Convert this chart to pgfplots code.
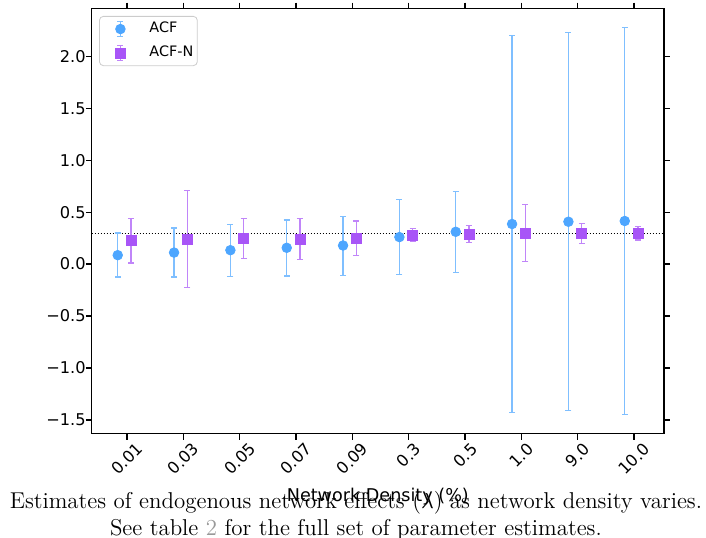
\documentclass[border=0pt]{standalone}
\usepackage{fontspec}
\usepackage{graphicx}
\usepackage{pgfplots}
\pgfplotsset{compat=1.18}
\usepackage{pgfplotstable}
\newfontfamily\dejavu{DejaVu Sans}
\definecolor{acfc}{HTML}{4DA6FF}
\definecolor{acfnc}{HTML}{A855F7}
\definecolor{linkgray}{HTML}{999999}

\pgfplotstableread{
x m lo hi
0 0.086 -0.124 0.299
1 0.111 -0.124 0.347
2 0.134 -0.121 0.379
3 0.157 -0.114 0.424
4 0.179 -0.107 0.459
5 0.260 -0.102 0.621
6 0.311 -0.082 0.699
7 0.386 -1.426 2.200
8 0.408 -1.410 2.229
9 0.415 -1.448 2.277
}\acf

\pgfplotstableread{
x m lo hi
0 0.227 0.009 0.440
1 0.241 -0.227 0.708
2 0.247 0.053 0.440
3 0.241 0.044 0.437
4 0.250 0.082 0.415
5 0.279 0.215 0.343
6 0.285 0.208 0.369
7 0.299 0.024 0.575
8 0.299 0.198 0.392
9 0.292 0.231 0.360
}\acfn

\begin{document}
\begin{tikzpicture}
\path[use as bounding box] (-45.85pt,-51.6pt) rectangle (307.15pt,216.9pt);
\begin{axis}[
  at={(0,0)}, anchor=south west, scale only axis,
  width=286.15pt, height=212.75pt,
  xmin=-0.627, xmax=9.532, ymin=-1.634, ymax=2.463,
  axis line style={line width=0.65pt},
  tick align=outside, major tick length=2.85pt,
  every tick/.style={black, line width=0.65pt},
  xtick={0,1,2,3,4,5,6,7,8,9},
  xticklabels={\rotatebox{45}{0.01},\rotatebox{45}{0.03},\rotatebox{45}{0.05},\rotatebox{45}{0.07},\rotatebox{45}{0.09},\rotatebox{45}{0.3},\rotatebox{45}{0.5},\rotatebox{45}{1.0},\rotatebox{45}{9.0},\rotatebox{45}{10.0}},
  ytick={-1.5,-1,-0.5,0,0.5,1,1.5,2},
  yticklabels={−1.5,−1.0,−0.5,0.0,0.5,1.0,1.5,2.0},
  tick label style={font=\fontsize{8.1}{9}\dejavu},
  x tick label style={anchor=north, inner sep=0pt, yshift=-1pt},
  y tick label style={anchor=east, inner sep=0pt},
  xlabel={Network Density (\%)},
  xlabel style={font=\fontsize{8.8}{10}\dejavu, at={(axis description cs:0.5,0)}, anchor=base, yshift=-33.6pt},
  legend style={at={(0.0128,0.982)}, anchor=north west, draw=black!20, rounded corners=2pt, fill=white,
    font=\fontsize{7.2}{8.5}\dejavu, inner xsep=2pt, inner ysep=2.25pt, row sep=3.75pt, column sep=6pt,
    nodes={inner sep=0pt, draw=none}},
  legend cell align=left,
]
\addplot[black, line width=0.4pt, dash pattern=on 0.6pt off 0.9pt, forget plot] coordinates {(-0.627,0.3) (9.532,0.3)};

\addplot[only marks, mark=*, mark size=2.4pt, color=acfc, mark options={fill=acfc, draw=acfc, solid},
  legend image code/.code={
    \path[draw=none, fill=none] (0pt,-4pt) rectangle (17pt,4pt);
    \draw[sharp corners, acfc!72!white, line width=0.7pt] (8.5pt,-3.75pt)--(8.5pt,3.75pt) (7pt,3.75pt)--(10pt,3.75pt) (7pt,-3.75pt)--(10pt,-3.75pt);
    \fill[acfc] (8.5pt,0pt) circle (2.4pt);
  },
  error bars/.cd, y dir=both, y explicit,
  error bar style={line width=0.7pt, color=acfc!72!white},
  error mark options={rotate=90, line width=0.7pt, color=acfc!72!white, mark size=1.5pt}]
  table[x expr=\thisrow{x}-0.165, y=m, y error plus expr=\thisrow{hi}-\thisrow{m}, y error minus expr=\thisrow{m}-\thisrow{lo}] {\acf};
\addlegendentry{ACF}

\addplot[only marks, mark=square*, mark size=2.5pt, color=acfnc, mark options={fill=acfnc, draw=acfnc, solid},
  legend image code/.code={
    \path[draw=none, fill=none] (0pt,-4pt) rectangle (17pt,4pt);
    \draw[sharp corners, acfnc!72!white, line width=0.7pt] (8.5pt,-3.75pt)--(8.5pt,3.75pt) (7pt,3.75pt)--(10pt,3.75pt) (7pt,-3.75pt)--(10pt,-3.75pt);
    \fill[sharp corners, acfnc] (6pt,-2.5pt) rectangle (11pt,2.5pt);
  },
  error bars/.cd, y dir=both, y explicit,
  error bar style={line width=0.7pt, color=acfnc!72!white},
  error mark options={rotate=90, line width=0.7pt, color=acfnc!72!white, mark size=1.5pt}]
  table[x expr=\thisrow{x}+0.07, y=m, y error plus expr=\thisrow{hi}-\thisrow{m}, y error minus expr=\thisrow{m}-\thisrow{lo}] {\acfn};
\addlegendentry{ACF-N}
\end{axis}
\node[font=\fontsize{11.45}{13.35}\selectfont, anchor=base] at (132.1pt,-37.1pt) {Estimates of endogenous network effects (\(\lambda\)) as network density varies.};
\node[font=\fontsize{11.45}{13.35}\selectfont, anchor=base] at (132.1pt,-50.6pt) {See table {\color{linkgray}2} for the full set of parameter estimates.};
\end{tikzpicture}
\end{document}
